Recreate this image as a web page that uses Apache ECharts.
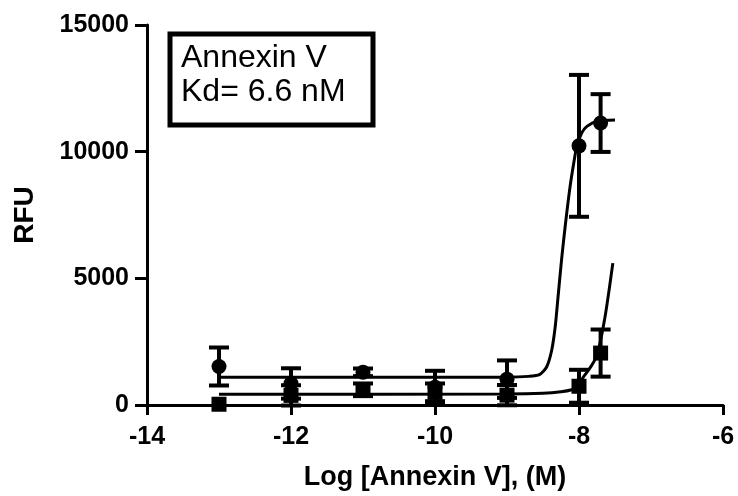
<!DOCTYPE html>
<html>
<head>
<meta charset="utf-8">
<script src="https://cdn.jsdelivr.net/npm/echarts@6/dist/echarts.min.js"></script>
<style>
  html, body { margin: 0; padding: 0; background: #fff; }
  #chart { width: 738px; height: 496px; }
</style>
</head>
<body>
<div id="chart"></div>
<script>
// Log molar concentration of Annexin V for each measured point
const logConc = [-13, -12, -11, -10, -9, -8, -7.7];

// Total binding (circles): mean RFU and error
const totalMean = [1520, 850, 1290, 700, 1020, 10230, 11130];
const totalErr  = [750, 600, 150, 650, 740, 2800, 1140];

// Nonspecific binding (squares): mean RFU and error
const nsMean = [30, 380, 600, 500, 390, 740, 2050];
const nsErr  = [0, 400, 250, 350, 400, 650, 930];

// Fitted binding curves, sampled as [log conc, RFU]
const totalFit = [
  [-13.0, 1100], [-9.0, 1100], [-8.7, 1130], [-8.55, 1200], [-8.45, 1500],
  [-8.38, 2150], [-8.33, 3100], [-8.29, 4300], [-8.24, 5800], [-8.19, 7100],
  [-8.125, 8600], [-8.07, 9600], [-8.03, 10220], [-7.96, 10750],
  [-7.89, 11000], [-7.75, 11200], [-7.5, 11250]
];
const nsFit = [
  [-13.0, 420], [-9.0, 430], [-8.5, 460], [-8.25, 520], [-8.1, 600],
  [-8.03, 700], [-7.94, 1100], [-7.85, 1450], [-7.75, 1960],
  [-7.64, 3450], [-7.53, 5600]
];

// Axis ticks
const xTicks = { min: -14, max: -6, step: 2 };
const yTicks = { min: 0, max: 15000, step: 5000 };

const inset = ['Annexin V', 'Kd= 6.6 nM'];

const FONT = 'Liberation Sans, Arial, Helvetica, sans-serif';

const pts = (means) => logConc.map((x, i) => [x, means[i]]);
const bars = (means, errs) => logConc.map((x, i) => [x, means[i] - errs[i], means[i] + errs[i]]);

function errorBar(params, api) {
  const x = api.value(0);
  const lo = api.coord([x, api.value(1)]);
  const hi = api.coord([x, api.value(2)]);
  if (hi[1] === lo[1]) return null;
  const half = 10;
  const style = { stroke: '#000', lineWidth: 4 };
  return {
    type: 'group',
    children: [
      { type: 'line', shape: { x1: lo[0], y1: lo[1], x2: hi[0], y2: hi[1] }, style },
      { type: 'line', shape: { x1: lo[0] - half, y1: lo[1], x2: lo[0] + half, y2: lo[1] }, style },
      { type: 'line', shape: { x1: hi[0] - half, y1: hi[1], x2: hi[0] + half, y2: hi[1] }, style }
    ]
  };
}

const chart = echarts.init(document.getElementById('chart'), null, { renderer: 'canvas' });

chart.setOption({
  backgroundColor: '#fff',
  animation: false,
  grid: { left: 147, right: 15, top: 25, bottom: 88, containLabel: false },
  xAxis: {
    type: 'value',
    min: xTicks.min, max: xTicks.max, interval: xTicks.step,
    name: 'Log [Annexin V], (M)',
    nameLocation: 'middle',
    nameGap: 59,
    nameTextStyle: { fontFamily: FONT, fontWeight: 'bold', fontSize: 27, color: '#000' },
    axisLine: { onZero: false, lineStyle: { color: '#000', width: 3 } },
    axisTick: { length: 10, lineStyle: { color: '#000', width: 3 } },
    axisLabel: { margin: 20, fontFamily: FONT, fontWeight: 'bold', fontSize: 25, color: '#000' },
    splitLine: { show: false }
  },
  yAxis: {
    type: 'value',
    min: yTicks.min, max: yTicks.max, interval: yTicks.step,
    name: 'RFU',
    nameLocation: 'middle',
    nameRotate: 90,
    nameGap: 108,
    nameTextStyle: { fontFamily: FONT, fontWeight: 'bold', fontSize: 28, color: '#000' },
    axisLine: { show: true, onZero: false, lineStyle: { color: '#000', width: 3 } },
    axisTick: { show: true, length: 12, lineStyle: { color: '#000', width: 3 } },
    axisLabel: {
      margin: 18, fontFamily: FONT, fontWeight: 'bold', fontSize: 25, color: '#000',
      formatter: (v) => String(v)
    },
    splitLine: { show: false }
  },
  graphic: [
    {
      type: 'rect',
      shape: { x: 170, y: 34, width: 203, height: 91 },
      style: { fill: '#fff', stroke: '#000', lineWidth: 5 },
      z: 10
    },
    {
      type: 'text',
      left: 181, top: 41,
      style: { text: inset.join('\n'), fontFamily: FONT, fontSize: 32, lineHeight: 34, fill: '#000' },
      z: 11
    }
  ],
  series: [
    {
      type: 'line', data: totalFit, smooth: 0.25,
      showSymbol: false, lineStyle: { color: '#000', width: 3 }, z: 2
    },
    {
      type: 'line', data: nsFit, smooth: 0.25,
      showSymbol: false, lineStyle: { color: '#000', width: 3 }, z: 2
    },
    { type: 'custom', renderItem: errorBar, data: bars(totalMean, totalErr), z: 3 },
    { type: 'custom', renderItem: errorBar, data: bars(nsMean, nsErr), z: 3 },
    {
      type: 'scatter', data: pts(totalMean), symbol: 'circle', symbolSize: 15,
      itemStyle: { color: '#000', opacity: 1 }, z: 4
    },
    {
      type: 'scatter', data: pts(nsMean), symbol: 'rect', symbolSize: 15,
      itemStyle: { color: '#000', opacity: 1 }, z: 4
    }
  ]
});
</script>
</body>
</html>
